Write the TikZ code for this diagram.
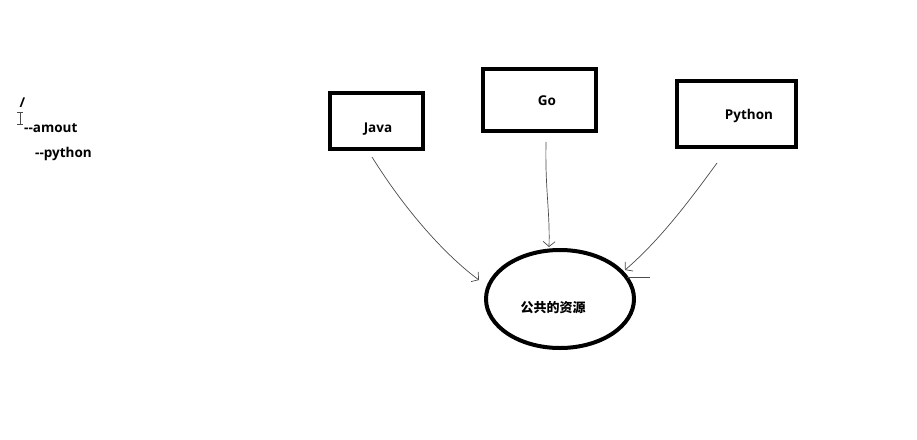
\documentclass[tikz,border=0pt]{standalone}
\usepackage{fontspec}
\setmainfont{Open Sans}
\newfontfamily\cjk{Noto Sans CJK SC}
\usetikzlibrary{shapes.geometric,arrows.meta}
\begin{document}
\begin{tikzpicture}[x=1pt,y=-1pt,
  box/.style={draw,line width=4.5pt,inner sep=0,outer sep=0},
  lbl/.style={font=\bfseries\fontsize{13.5}{15}\selectfont},
  conn/.style={draw=black!70,line width=0.7pt,-{Straight Barb[length=5pt,width=12pt]}}]
\useasboundingbox (0,0) rectangle (917,439);
\fill[white] (0,0) rectangle (917,439);
% boxes
\node[box,minimum width=93pt,minimum height=56pt] (javabox) at (376.5,121) {};
\node[lbl] (java) at (378,129) {Java};
\node[box,minimum width=113pt,minimum height=62pt] (gobox) at (539.5,100) {};
\node[lbl] (go) at (547,101) {Go};
\node[box,minimum width=119pt,minimum height=66pt] (pybox) at (736.5,114) {};
\node[lbl] (py) at (749,116) {Python};
% ellipse
\node[ellipse,draw,line width=4pt,minimum width=148pt,minimum height=98pt,inner sep=0] (res) at (560,299) {};
\node[font=\cjk\bfseries\fontsize{13}{15}\selectfont] (restxt) at (553,308) {公共的资源};
% connectors
\coordinate (ja) at (372,157);
\coordinate (jb) at (479,280);
\draw[conn] (ja) .. controls (405,210) and (445,255) .. (jb);
\coordinate (ga) at (546,142);
\coordinate (gb) at (549,247);
\draw[conn] (ga) .. controls (545,190) and (550,210) .. (gb);
\coordinate (pa) at (717,163);
\coordinate (pb) at (625,270);
\draw[conn] (pa) .. controls (690,200) and (660,240) .. (pb);
\draw[black!70,line width=0.7pt] (627,277) -- (650,277);
% left text
\node[lbl,anchor=west] (slash) at (16,103) {/};
\draw[black!70,line width=0.8pt] (17,112) -- (23,112) (20,112) -- (20,124) (17,124) -- (23,124);
\node[lbl,anchor=west,inner sep=0] (amout) at (24,128) {-{}-amout};
\node[lbl,anchor=west,inner sep=0] (python) at (35,154) {-{}-python};
\end{tikzpicture}
\end{document}
